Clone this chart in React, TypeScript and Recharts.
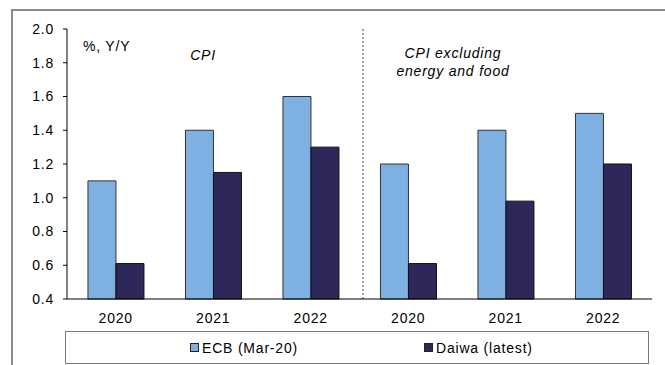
import React from "react";
import {
  BarChart,
  Bar,
  XAxis,
  YAxis,
  ReferenceLine,
  Legend,
  Customized,
} from "recharts";

// Category keys (panel + year) and the year shown under each bar pair
const categories = ["CPI-2020", "CPI-2021", "CPI-2022", "Core-2020", "Core-2021", "Core-2022"];
const yearLabels = ["2020", "2021", "2022", "2020", "2021", "2022"];

// Inflation forecasts, %, Y/Y
const ecbValues = [1.1, 1.4, 1.6, 1.2, 1.4, 1.5];
const daiwaValues = [0.61, 1.15, 1.3, 0.61, 0.98, 1.2];

const yTicks = [0.4, 0.6, 0.8, 1.0, 1.2, 1.4, 1.6, 1.8, 2.0];
const seriesNames = ["ECB (Mar-20)", "Daiwa (latest)"];

const ECB_COLOR = "#7eb1e1";
const DAIWA_COLOR = "#2d2859";
const FONT = "'Liberation Sans', Arial, sans-serif";
const FONT_SIZE = 14;
const SPACING = 0.8;

const data = categories.map((key, i) => ({
  key,
  year: yearLabels[i],
  ecb: ecbValues[i],
  daiwa: daiwaValues[i],
}));

const tickStyle = {
  fill: "#000",
  fontSize: FONT_SIZE,
  fontFamily: FONT,
  letterSpacing: SPACING,
};

const Annotations = () => (
  <g fontFamily={FONT} fontSize={FONT_SIZE} fill="#000" letterSpacing={SPACING}>
    <text x={83} y={51}>%, Y/Y</text>
    <text x={203} y={60} textAnchor="middle" fontStyle="italic">CPI</text>
    <text x={453} y={58} textAnchor="middle" fontStyle="italic">CPI excluding</text>
    <text x={453} y={76} textAnchor="middle" fontStyle="italic">energy and food</text>
  </g>
);

// Dotted divider between the two panels, nudged slightly right of the band edge
const Divider = (props: any) => {
  const { x1, y1, y2 } = props;
  const x = x1 + 3.5;
  return (
    <line
      x1={x}
      x2={x}
      y1={y1}
      y2={y2}
      stroke="#444"
      strokeWidth={1}
      strokeDasharray="2 2"
    />
  );
};

const LegendBox = () => {
  const colors = [ECB_COLOR, DAIWA_COLOR];
  const lefts = [124, 358];
  return (
    <div
      style={{
        position: "relative",
        width: 584,
        height: 33,
        boxSizing: "border-box",
        border: "1px solid #7a7a7a",
        fontFamily: FONT,
        fontSize: FONT_SIZE,
        letterSpacing: SPACING,
        color: "#000",
      }}
    >
      {seriesNames.map((name, i) => (
        <div
          key={name}
          style={{
            position: "absolute",
            left: lefts[i],
            top: 0,
            height: 31,
            display: "flex",
            alignItems: "center",
            whiteSpace: "nowrap",
          }}
        >
          <span
            style={{
              display: "inline-block",
              width: 7,
              height: 7,
              background: colors[i],
              border: "1px solid #222",
              marginRight: 3,
            }}
          />
          <span>{name}</span>
        </div>
      ))}
    </div>
  );
};

export default function App() {
  return (
    <div
      style={{
        position: "absolute",
        left: 0,
        top: 0,
        width: 665,
        height: 365,
        overflow: "hidden",
        background: "#fff",
      }}
    >
      <div
        style={{
          position: "absolute",
          left: 11,
          top: 9,
          width: 700,
          height: 400,
          borderTop: "2px solid #8c8c8c",
          borderLeft: "2px solid #8c8c8c",
        }}
      />
      <BarChart
        width={665}
        height={365}
        data={data}
        margin={{ top: 29, right: 13, bottom: 0, left: 0 }}
        barCategoryGap="21.5%"
        barGap={0}
        style={{ position: "absolute", left: 0, top: 0 }}
      >
        <XAxis
          xAxisId="cat"
          dataKey="key"
          tickFormatter={(_v: string, i: number) => yearLabels[i]}
          tickLine={false}
          tickSize={6}
          tickMargin={8}
          height={66}
          axisLine={{ stroke: "#000", strokeWidth: 1 }}
          tick={tickStyle}
          interval={0}
        />
        <XAxis
          xAxisId="top"
          type="number"
          domain={[0, 6]}
          orientation="top"
          height={0}
          tick={false}
          tickLine={false}
          axisLine={{ stroke: "#333", strokeWidth: 1 }}
        />
        <YAxis
          domain={[0.4, 2.0]}
          ticks={yTicks}
          tickFormatter={(v: number) => v.toFixed(1)}
          width={67}
          tickSize={4}
          tickMargin={9}
          axisLine={{ stroke: "#000", strokeWidth: 1 }}
          tickLine={{ stroke: "#000" }}
          tick={tickStyle}
          interval={0}
        />
        <YAxis
          yAxisId="right"
          orientation="right"
          width={0}
          tick={false}
          tickLine={false}
          axisLine={{ stroke: "#333", strokeWidth: 1 }}
        />
        <ReferenceLine
          xAxisId="cat"
          x={categories[3]}
          position="start"
          shape={Divider}
        />
        <Bar
          xAxisId="cat"
          dataKey="ecb"
          name={seriesNames[0]}
          fill={ECB_COLOR}
          stroke="#333"
          strokeWidth={1}
          isAnimationActive={false}
        />
        <Bar
          xAxisId="cat"
          dataKey="daiwa"
          name={seriesNames[1]}
          fill={DAIWA_COLOR}
          stroke="#111"
          strokeWidth={1}
          isAnimationActive={false}
        />
        <Legend
          layout="vertical"
          align="center"
          verticalAlign="middle"
          content={() => <LegendBox />}
          wrapperStyle={{ position: "absolute", left: 65, top: 331, width: 584, height: 33 }}
        />
        <Customized component={Annotations} />
      </BarChart>
    </div>
  );
}
